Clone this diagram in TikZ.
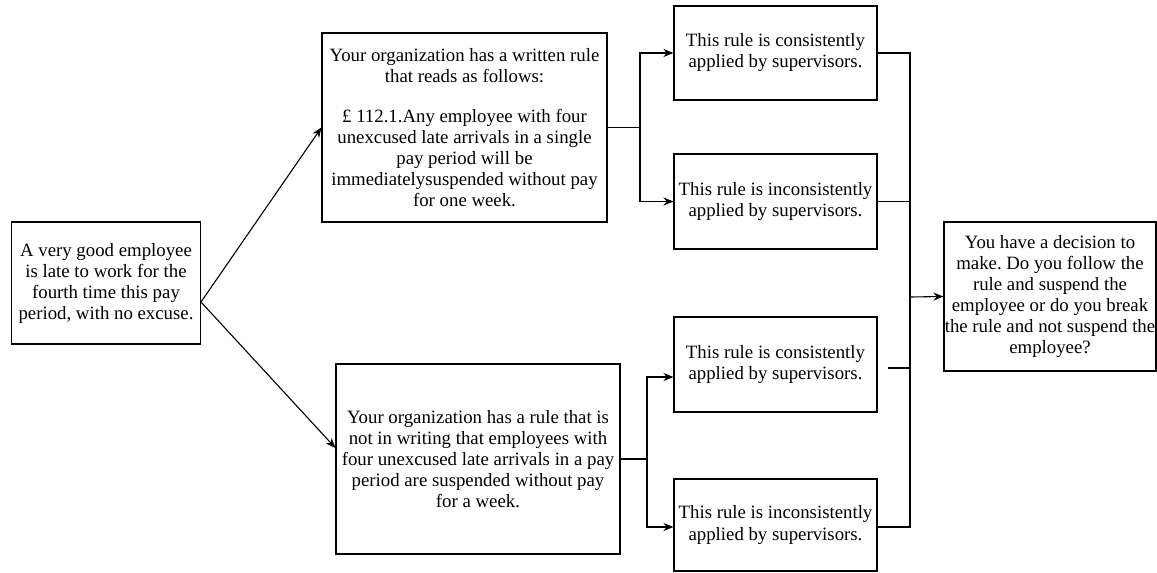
\documentclass[tikz,border=0pt]{standalone}
\usepackage{fontspec}
\setmainfont{Liberation Serif}
\usetikzlibrary{arrows.meta}
\frenchspacing
\begin{document}
\begin{tikzpicture}[x=1pt,y=-1pt,
  box/.style={draw, line width=1.1pt, rectangle, inner sep=0pt, align=center,
    font=\fontsize{18.8}{21}\selectfont},
  conn/.style={line width=1.1pt},
  arr/.style={conn, -{Stealth[length=10pt,width=8pt]}}]
\useasboundingbox (0,0) rectangle (1157,573);
\node[box, minimum width=189pt, minimum height=122pt] (A) at (106,283)
  {A very good employee\\ is late to work for the\\ fourth time this pay\\ period, with no excuse.};
\node[box, minimum width=285pt, minimum height=189pt] (B) at (464.5,127.5)
  {Your organization has a written rule\\ that reads as follows:\\[19pt]
   £ 112.1.Any employee with four\\ unexcused late arrivals in a single\\ pay period will be\\ immediatelysuspended without pay\\ for one week.};
\node[box, minimum width=203pt, minimum height=94pt] (C1) at (775.5,53)
  {This rule is consistently\\ applied by supervisors.};
\node[box, minimum width=203pt, minimum height=95pt] (C2) at (775.5,201.5)
  {This rule is inconsistently\\ applied by supervisors.};
\node[box, minimum width=284pt, minimum height=190pt] (D) at (478,459)
  {Your organization has a rule that is\\ not in writing that employees with\\ four unexcused late arrivals in a pay\\ period are suspended without pay\\ for a week.};
\node[box, minimum width=203pt, minimum height=95pt] (C3) at (775.5,364.5)
  {This rule is consistently\\ applied by supervisors.};
\node[box, minimum width=203pt, minimum height=92pt] (C4) at (775.5,525)
  {This rule is inconsistently\\ applied by supervisors.};
\node[box, minimum width=212pt, minimum height=149pt] (E) at (1050,296.5)
  {You have a decision to\\ make. Do you follow the\\ rule and suspend the\\ employee or do you break\\ the rule and not suspend the\\ employee?};
% connectors
\coordinate (a1) at (201,302);
\draw[arr] (a1) -- (B.west);
\draw[arr] (a1) -- ([yshift=11pt]D.west);
\coordinate (jB) at (640,127.5);
\draw[conn] (B.east) -- (jB);
\draw[arr] (jB) |- (C1.west);
\draw[arr] (jB) |- (C2.west);
\coordinate (jD) at (647,459);
\draw[conn] (D.east) -- (jD);
\draw[arr] (jD) |- ([yshift=-12.5pt]C3.west);
\draw[arr] (jD) |- ([yshift=-2pt]C4.west);
\coordinate (bt) at (910,53);
\coordinate (bb) at (910,527);
\coordinate (bm) at (910,297);
\draw[conn] (C1.east) -- (bt) -- (bb) -- ([yshift=-2pt]C4.east);
\draw[conn] (C2.east) -- (C2.east -| bt);
\draw[conn] ([xshift=10pt,yshift=-3.5pt]C3.east) -- ([yshift=-3.5pt]C3.east -| bt);
\draw[arr] (bm) -- (E.west);
\end{tikzpicture}
\end{document}
